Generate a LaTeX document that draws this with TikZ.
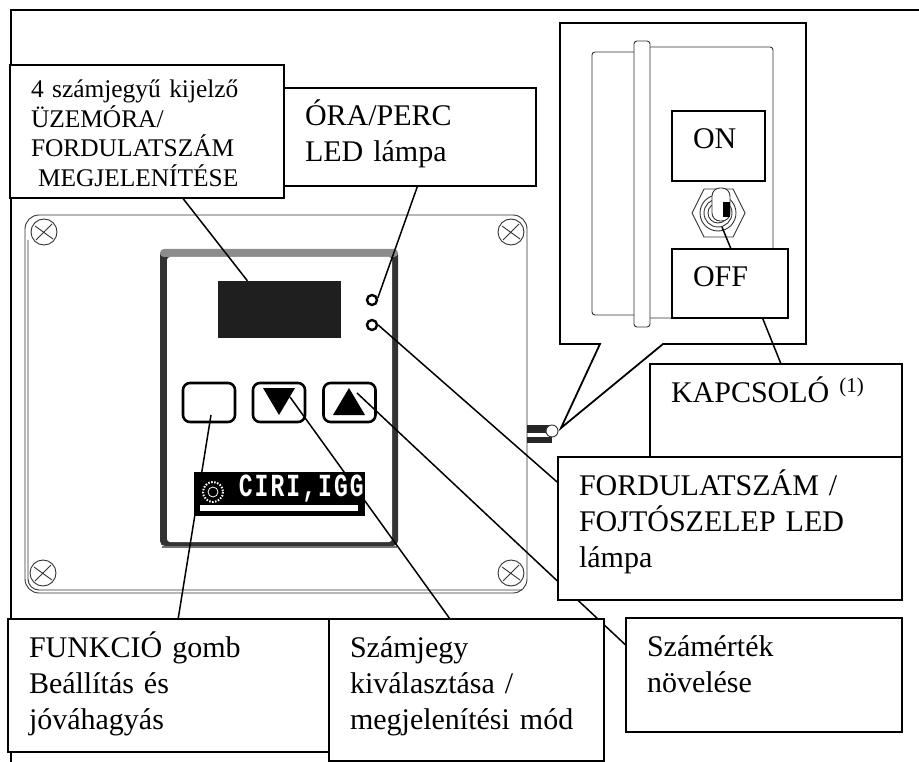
\documentclass[tikz,border=0pt]{standalone}
\usepackage{fontspec}
\setmainfont{Liberation Serif}
\newfontfamily\logofont[LetterSpace=9]{Liberation Mono}
\usetikzlibrary{calc}
\pgfdeclarelayer{panel}
\pgfdeclarelayer{leaders}
\pgfsetlayers{panel,leaders,main}
\begin{document}
\begin{tikzpicture}[x=1pt,y=-1pt,
  labelbox/.style n args={2}{draw, fill=white, line width=1.5pt, anchor=north west,
    align=left, inner xsep=21pt, inner ysep=0pt, outer sep=0pt,
    font=\fontsize{30}{36}\selectfont,
    text width=#1pt-42pt, text height=38pt, text depth=#2pt-38pt},
  thinline/.style={line width=0.9pt, black!80},
  lead/.style={line width=1.5pt},
  led/.style={circle, draw, line width=2.4pt, fill=white, inner sep=0pt, minimum size=10pt},
  keybtn/.style={draw, line width=2.6pt, rounded corners=7pt, fill=white, inner sep=0pt,
    minimum width=52pt, minimum height=39pt}]
\useasboundingbox (0,0) rectangle (919,762);
% ---------------- labels ----------------
\node[labelbox={252}{98}] (lblled) at (284,88) {ÓRA/PERC\\LED lámpa};
\node[labelbox={274}{138}, font=\fontsize{25.4}{29.5}\selectfont, text height=33pt]
  (lbldisp) at (10,65)
  {4 számjegyű kijelző\\ÜZEMÓRA/\\FORDULATSZÁM\\\hspace*{7pt}MEGJELENÍTÉSE};
\node[labelbox={93}{70}] (lblon) at (672,111) {ON};
\node[labelbox={116}{69}] (lbloff) at (672,249) {OFF};
\node[labelbox={252}{93}] (lblswitch) at (650,364) {KAPCSOLÓ \textsuperscript{(1)}};
\node[labelbox={344}{143}] (lblrpm) at (558,457) {FORDULATSZÁM /\\FOJTÓSZELEP LED\\lámpa};
\node[labelbox={276}{114}] (lblinc) at (626,618) {Számérték\\növelése};
\node[labelbox={321}{133}] (lblfunc) at (8,619) {FUNKCIÓ gomb\\Beállítás és\\jóváhagyás};
\node[labelbox={275}{142}] (lbldigit) at (329,619) {Számjegy\\kiválasztása /\\megjelenítési mód};
% ---------------- logo plate ----------------
\node[fill=black, minimum width=171pt, minimum height=44pt, inner sep=0pt] (logo) at (279.5,494) {};
\fill[white] (200,505) rectangle (358,511);
\node[text=white, font=\logofont\bfseries\fontsize{23}{23}\selectfont, inner sep=0pt, anchor=east]
  (logotext) at (364,489) {\scalebox{1}[1.4]{CIRI,IGG}};
\draw[white, line width=2pt, dash pattern=on 1.5pt off 1.5pt] (213,492) circle (10);
\draw[white, line width=0.8pt] (213,492) circle (5);
% ---------------- enclosure and keypad ----------------
\begin{pgfonlayer}{panel}
\draw[line width=1.3pt] (919,10) -- (11,10) -- (11,762);
% front plate
\draw[thinline, rounded corners=14pt] (25,215) rectangle (527,593);
\draw[thinline, rounded corners=11pt] (28,240) -- (28,590) -- (522,590);
\foreach \sx/\sy in {44/232, 511/232, 43/573, 511/573}{
  \draw[thinline, fill=white] (\sx,\sy) circle (13);
  \draw[thinline] (\sx-9,\sy-6) -- (\sx+9,\sy+7) (\sx-8,\sy+8) -- (\sx+8,\sy-8);
}
\fill[black!80, rounded corners=5pt] (160,250) rectangle (398,546);
\fill[black!45, rounded corners=4pt] (160,249) rectangle (398,257);
\fill[black!55] (162,546) rectangle (397,548);
\fill[white, rounded corners=3pt] (167,257) rectangle (392,542);
\node[fill=black!88, minimum width=123pt, minimum height=57pt, inner sep=0pt] (disp) at (279.5,309.5) {};
\node[led] (ledtime) at (372,300) {};
\node[led] (ledrpm) at (372,325) {};
\node[keybtn] (btnfunc) at (209,402.5) {};
\node[keybtn] (btndown) at (279,402.5) {};
\node[keybtn] (btnup) at (349.5,402.5) {};
\fill (263,388) -- (295,388) -- (279,415) -- cycle;
\fill (333,415) -- (365,415) -- (349,388) -- cycle;
% side stub
\fill[black!85] (527,425) rectangle (550,433);
\fill[black!85] (527,437) rectangle (552,443);
\draw[thinline, fill=white] (552,431) circle (6);
% ---------------- callout with side view ----------------
\draw[line width=1.8pt, fill=white] (560,23) -- (806,23) -- (806,344) -- (663,344)
  -- (561,428) -- (600,344) -- (560,344) -- cycle;
\draw[thinline, rounded corners=3pt] (634,52) -- (592,52) -- (592,315) -- (634,315);
\draw[thinline, rounded corners=3pt] (650,47) -- (773,47) -- (773,318) -- (650,318);
\draw[thinline, fill=white, rounded corners=3pt] (634,41) rectangle (650,327);
% toggle switch
\draw[thinline] (692,213) -- (704,189) -- (733,189) -- (745,213) -- (733,237) -- (704,237) -- cycle;
\foreach \r in {10,14,18}{ \draw[thinline] (718,213) circle (\r); }
\draw[thinline, fill=white, rounded corners=8pt] (712,188) rectangle (730,221);
\fill (723,202) rectangle (730,217);
\end{pgfonlayer}
% ---------------- leader lines ----------------
\coordinate (funcend) at (211,415);
\coordinate (downend) at (290,397);
\coordinate (upend) at (357,393);
\coordinate (toggleend) at (722,227);
\begin{pgfonlayer}{leaders}
\draw[lead] ($(lbldisp.south west)!.63!(lbldisp.south east)$) -- ($(disp.north west)!.24!(disp.north east)$);
\draw[lead] ($(lblled.south west)!.53!(lblled.south east)$) -- (ledtime.20);
\draw[lead] (lbloff.north) ++(1,0) -- (toggleend);
\draw[lead] ($(lbloff.south west)!.78!(lbloff.south east)$) -- ($(lblswitch.north west)!.52!(lblswitch.north east)$);
\draw[lead] (ledrpm.0) -- ($(lblrpm.north west)!.18!(lblrpm.south west)$);
\draw[lead] (upend) -- ($(lblinc.north west)!.24!(lblinc.south west)$);
\draw[lead] (downend) -- ($(lbldigit.north west)!.44!(lbldigit.north east)$);
\draw[lead] (funcend) -- ($(lblfunc.north west)!.53!(lblfunc.north east)$);
\end{pgfonlayer}
\end{tikzpicture}
\end{document}
